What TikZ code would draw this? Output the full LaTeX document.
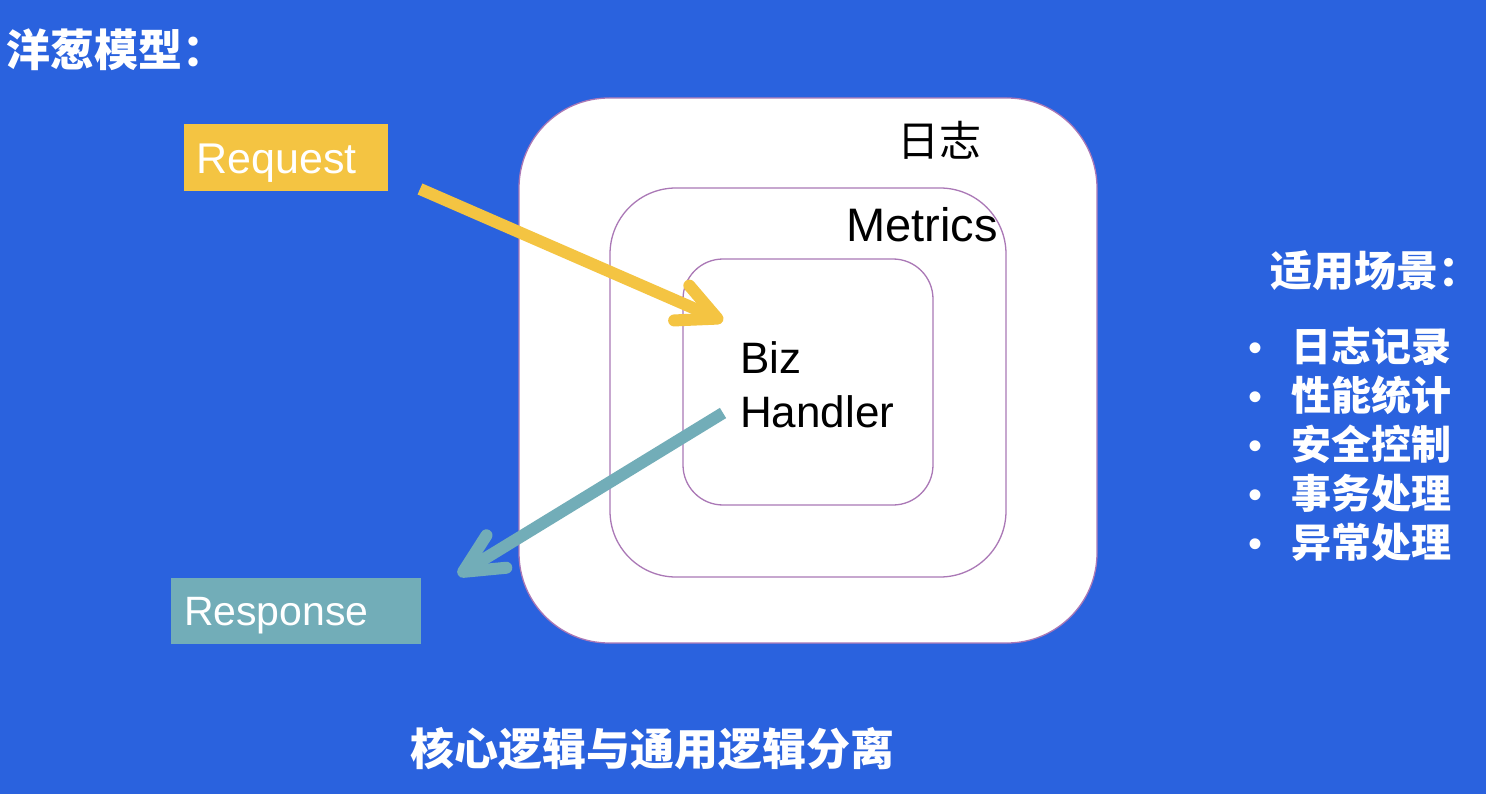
\documentclass[tikz,border=0pt]{standalone}
\usepackage{fontspec}
\setmainfont{Liberation Sans}
\newfontfamily\cjk{Noto Sans CJK SC}
\usetikzlibrary{arrows.meta}
\definecolor{bgblue}{RGB}{42,98,222}
\definecolor{reqyellow}{RGB}{244,196,66}
\definecolor{respteal}{RGB}{114,173,184}
\definecolor{layerline}{RGB}{170,120,182}
\tikzset{
  layerbox/.style={draw=layerline, line width=1.3pt, fill=white, inner sep=0pt, rectangle},
  whitecjk/.style={text=white, inner sep=0pt, font=\cjk\bfseries},
  labeltext/.style={text=black, inner sep=0pt},
  tagbox/.style={text=white, inner sep=0pt, inner xsep=13pt, align=left},
  flowarrow/.style={line width=12pt, line cap=butt, -{Straight Barb[length=39pt,width=38pt,round]}},
}
\begin{document}
\begin{tikzpicture}[x=1pt,y=-1pt]
\fill[bgblue] (0,0) rectangle (1486,794);
\useasboundingbox (0,0) rectangle (1486,794);

% title
\node[whitecjk, anchor=base west, font=\cjk\bfseries\fontsize{44}{50}\selectfont] (title) at (6,67) {洋葱模型：};

% onion layers
\node[layerbox, minimum width=578, minimum height=545, rounded corners=90] (outer) at (808,370.5) {};
\node[layerbox, minimum width=396, minimum height=389, rounded corners=66] (middle) at (808,382.5) {};
\node[layerbox, minimum width=250, minimum height=246, rounded corners=40] (inner) at (808,382) {};

\node[labeltext, anchor=base west, font=\cjk\fontsize{42}{48}\selectfont] (log) at (897,157) {日志};
\node[labeltext, anchor=base west, font=\fontsize{47}{54}\selectfont] (metrics) at (846,242) {Metrics};
\node[labeltext, anchor=base west, align=left, font=\fontsize{44}{54}\selectfont] (biz) at (740,427) {Biz\\Handler};

% request / response
\node[tagbox, fill=reqyellow, minimum width=204, minimum height=67, text width=178pt,
      text height=31pt, text depth=0pt, font=\fontsize{43}{48}\selectfont] (request) at (285.5,158) {Request};
\node[tagbox, fill=respteal, minimum width=250, minimum height=66, text width=224pt,
      text height=29pt, text depth=0pt, font=\fontsize{41}{46}\selectfont] (response) at (296,610.5) {Response};

% arrows
\coordinate (reqstart) at (420,189);
\coordinate (reqtip) at (723,321);
\coordinate (respstart) at (723,413);
\coordinate (resptip) at (458,575);
\draw[flowarrow, draw=reqyellow] (reqstart) -- (reqtip);
\draw[flowarrow, draw=respteal] (respstart) -- (resptip);

% scenarios
\node[whitecjk, anchor=base west, font=\cjk\bfseries\fontsize{42}{48}\selectfont] (scenes) at (1270,287) {适用场景：};
\node[whitecjk, anchor=base west, align=left, font=\cjk\bfseries\fontsize{40}{49}\selectfont] (list) at (1248,557)
  {\makebox[43pt][l]{\rmfamily\mdseries •}日志记录\\
   \makebox[43pt][l]{\rmfamily\mdseries •}性能统计\\
   \makebox[43pt][l]{\rmfamily\mdseries •}安全控制\\
   \makebox[43pt][l]{\rmfamily\mdseries •}事务处理\\
   \makebox[43pt][l]{\rmfamily\mdseries •}异常处理};

% bottom caption
\node[whitecjk, anchor=base, font=\cjk\bfseries\fontsize{44}{50}\selectfont] (caption) at (652,765) {核心逻辑与通用逻辑分离};
\end{tikzpicture}
\end{document}
